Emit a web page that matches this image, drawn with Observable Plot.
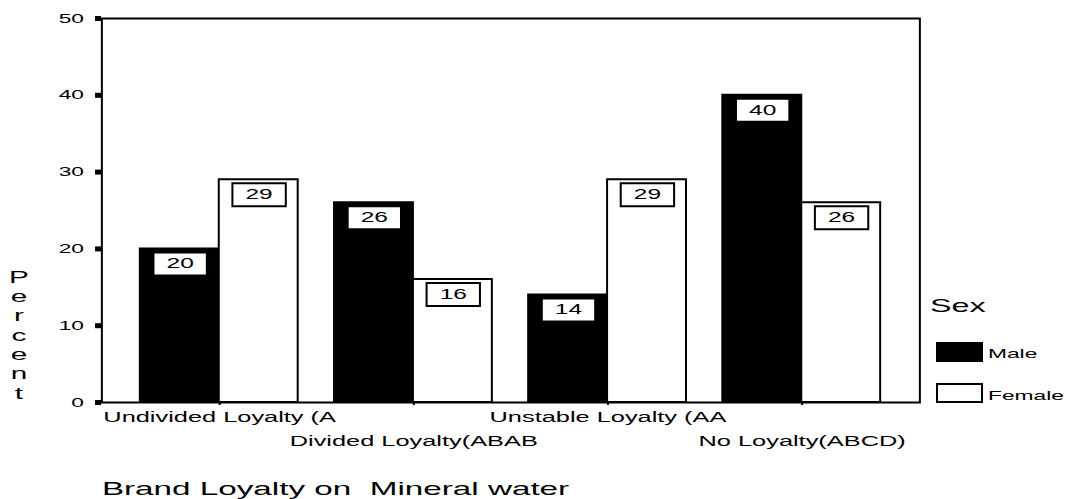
<!DOCTYPE html>
<html><head><meta charset="utf-8">
<script src="https://cdn.jsdelivr.net/npm/d3@7"></script>
<script src="https://cdn.jsdelivr.net/npm/@observablehq/plot@0.6"></script>
<style>
html,body{margin:0;padding:0;background:#fff;}
#chart{position:relative;width:1079px;height:499px;overflow:hidden;font-family:"Liberation Sans",Arial,sans-serif;background:#fff;}
.lg{position:absolute;transform:scaleX(1.75);transform-origin:0 0;white-space:nowrap;line-height:1;color:#000;}
.sw{position:absolute;box-sizing:border-box;border:2px solid #000;}
</style></head><body><div id="chart"></div>
<script>
// ---- data ----
const categories = ["Undivided Loyalty (A", "Divided Loyalty(ABAB", "Unstable Loyalty (AA", "No Loyalty(ABCD)"];
const sexes = ["Male", "Female"];
const maleValues = [20, 26, 14, 40];
const femaleValues = [29, 16, 29, 26];
const yTicks = [0, 10, 20, 30, 40, 50];
const xTitle = "Brand Loyalty on  Mineral water";
const yTitle = "Percent";
const legendTitle = "Sex";
const sexColors = ["black", "white"];

// ---- layout ----
const W = 1079, H = 499, SX = 1.75;
const w = W / SX;
const font = '"Liberation Sans", Arial, sans-serif';
const mL = 101 / SX, mR = (W - 919) / SX;
const padIn = 0.187, padOut = 0.2;
const step = (w - mL - mR) / (categories.length - padIn + 2 * padOut);
const outerGap = padOut * step;

const data = categories.flatMap((c, i) => [
  {category: c, sex: sexes[0], value: maleValues[i]},
  {category: c, sex: sexes[1], value: femaleValues[i]}
]);

const boxSymbol = {draw(ctx) { const bw = 30.5, bh = 23; ctx.rect(-bw / 2, -bh / 2, bw, bh); }};

const svg = Plot.plot({
  width: w, height: H,
  marginLeft: mL, marginRight: mR, marginTop: 18, marginBottom: 97,
  style: {fontFamily: font, background: "white", color: "black"},
  fx: {domain: categories, paddingInner: padIn, paddingOuter: padOut, round: false, label: null},
  x: {domain: sexes, padding: 0, round: false, axis: null},
  y: {domain: [0, 50], label: null},
  color: {domain: sexes, range: sexColors},
  marks: [
    Plot.barY(data, {fx: "category", x: "sex", y: "value", fill: "sex", stroke: "black", strokeWidth: 2}),
    Plot.dot(data, {fx: "category", x: "sex", y: "value", symbol: boxSymbol, r: 5, fill: "white", stroke: "black", strokeWidth: 2, dy: 15}),
    Plot.text(data, {fx: "category", x: "sex", y: "value", text: d => String(d.value), dy: 15, fontSize: 14, fill: "black"}),
    Plot.frame({facet: "super", stroke: "black", strokeWidth: 2, insetLeft: -outerGap, insetRight: -outerGap}),
    Plot.axisY(yTicks, {dx: -outerGap, tickSize: 3.4, tickPadding: 6.8, fontSize: 13, strokeWidth: 5, label: null}),
    Plot.axisFx({anchor: "bottom", tickSize: 3, strokeWidth: 2, tickPadding: 6, fontSize: 14.5, label: null,
      tickFormat: d => categories.indexOf(d) % 2 === 0 ? d : ""}),
    Plot.axisFx({anchor: "bottom", tickSize: 0, tickPadding: 33, fontSize: 14.5, label: null,
      tickFormat: d => categories.indexOf(d) % 2 === 1 ? d : ""}),
    Plot.text([yTitle.split("").join("\n")], {facet: "super", frameAnchor: "bottom-left", lineAnchor: "bottom",
      textAnchor: "middle", dx: -47.4 - outerGap, dy: -4, fontSize: 17, lineHeight: 1.135}),
    Plot.text([xTitle], {facet: "super", frameAnchor: "bottom-left", lineAnchor: "top",
      textAnchor: "start", dx: -outerGap, dy: 79, fontSize: 19})
  ]
});

svg.setAttribute("viewBox", `0 0 ${w} ${H}`);
svg.setAttribute("width", W);
svg.setAttribute("height", H);
svg.setAttribute("preserveAspectRatio", "none");
svg.style.position = "absolute";
svg.style.left = "0px";
svg.style.top = "0px";
svg.style.width = W + "px";
svg.style.height = H + "px";
svg.style.maxWidth = "none";
svg.querySelectorAll("path, line, rect").forEach(el => el.setAttribute("vector-effect", "non-scaling-stroke"));

const chart = document.getElementById("chart");
chart.appendChild(svg);

// ---- legend ----
function addText(text, left, top, size) {
  const d = document.createElement("div");
  d.className = "lg";
  d.textContent = text;
  d.style.left = left + "px";
  d.style.top = top + "px";
  d.style.fontSize = size + "px";
  chart.appendChild(d);
}
addText(legendTitle, 930, 297, 18.5);
sexes.forEach((s, i) => {
  const sw = document.createElement("div");
  sw.className = "sw";
  sw.style.left = "936px";
  sw.style.top = (341.7 + i * 41.6) + "px";
  sw.style.width = "47px";
  sw.style.height = "20px";
  sw.style.background = sexColors[i];
  chart.appendChild(sw);
  addText(s, 988, 347.3 + i * 41.7, 13);
});
</script>
</body></html>
